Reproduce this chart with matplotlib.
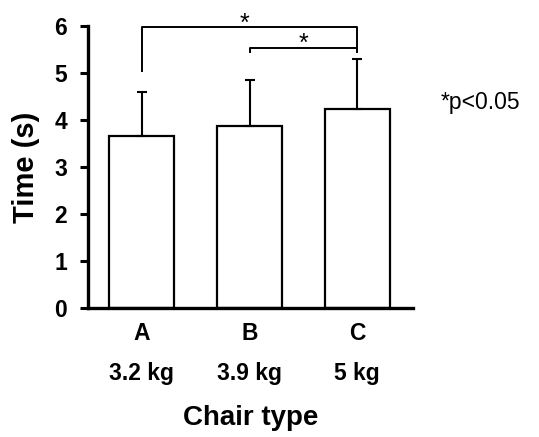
import numpy as np
import matplotlib.pyplot as plt

plt.rcParams['font.family'] = ['Liberation Sans', 'DejaVu Sans']

# Data
chairs = ['A', 'B', 'C']
weights = ['3.2 kg', '3.9 kg', '5 kg']
means = [3.65, 3.87, 4.23]
sds = [0.95, 0.97, 1.07]
y_ticks = [0, 1, 2, 3, 4, 5, 6]

fig = plt.figure(figsize=(5.39, 4.37), dpi=100)
ax = fig.add_axes([0.163, 0.295, 0.603, 0.646])

x = np.arange(len(chairs))
ax.bar(x, means, width=0.6, color='white', edgecolor='black', linewidth=1.6, zorder=2)
ax.errorbar(x, means, yerr=[np.zeros(len(sds)), sds], fmt='none', ecolor='black',
            elinewidth=1.5, capsize=3.5, capthick=1.5, zorder=3)

ax.set_xlim(-0.5, 2.515)
ax.set_ylim(0, 6)
ax.set_yticks(y_ticks)
ax.set_yticklabels([str(t) for t in y_ticks], fontsize=16.5, fontweight='bold')
ax.set_xticks(x)
ax.set_xticklabels([f'{c}\n{w}' for c, w in zip(chairs, weights)], fontsize=16.5, fontweight='bold')
for lab in ax.get_xticklabels():
    lab.set_linespacing(1.95)

ax.tick_params(axis='y', length=6, width=2.2, pad=9)
ax.tick_params(axis='x', length=0, pad=10)

for side in ['top', 'right']:
    ax.spines[side].set_visible(False)
for side in ['left', 'bottom']:
    ax.spines[side].set_linewidth(2.4)

ax.set_ylabel('Time (s)', fontsize=21, fontweight='bold', labelpad=10)
ax.set_xlabel('Chair type', fontsize=20, fontweight='bold', labelpad=14)

# significance brackets
ax.plot([0, 0, 2, 2], [5.03, 5.97, 5.97, 5.44], color='black', lw=1.4, clip_on=False)
ax.plot([1, 1, 2], [5.44, 5.52, 5.52], color='black', lw=1.4, clip_on=False)
ax.text(0.95, 6.05, '*', ha='center', va='center', fontsize=18)
ax.text(1.5, 5.62, '*', ha='center', va='center', fontsize=18)

fig.text(0.818, 0.765, '*p<0.05', fontsize=16.5, va='center', ha='left')

fig.savefig('out.png', dpi=100)
